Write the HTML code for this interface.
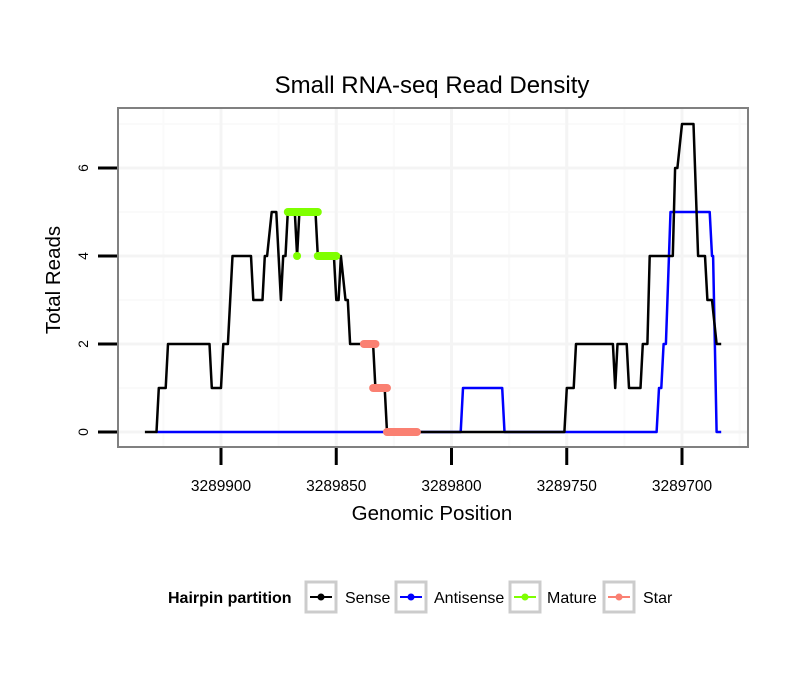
<!DOCTYPE html>
<html><head><meta charset="utf-8"><style>
body{margin:0;background:#fff;}
svg{display:block;font-family:"Liberation Sans",sans-serif;}
</style></head><body>
<svg id="chart" width="810" height="690">
<rect width="810" height="690" fill="#fff"/>
<text x="432" y="93" font-size="24" text-anchor="middle">Small RNA-seq Read Density</text>
<g id="grid"></g>
<g id="series"></g>
<rect x="118" y="108" width="630" height="339" fill="none" stroke="#808080" stroke-width="2"/>
<g id="axes"></g>
<text x="432" y="520" font-size="20.5" text-anchor="middle">Genomic Position</text>
<text transform="translate(60,280) rotate(-90)" font-size="20.5" text-anchor="middle">Total Reads</text>
<g>
<text x="168" y="603" font-size="16" font-weight="bold">Hairpin partition</text>
<g><rect x="306" y="582" width="30" height="30" fill="#fff" stroke="#ccc" stroke-width="3"/><line x1="310" y1="597" x2="332" y2="597" stroke="#000" stroke-width="2"/><circle cx="321" cy="597" r="3.5" fill="#000"/><text x="345" y="603" font-size="16">Sense</text></g>
<g><rect x="396" y="582" width="30" height="30" fill="#fff" stroke="#ccc" stroke-width="3"/><line x1="400" y1="597" x2="422" y2="597" stroke="#00f" stroke-width="2"/><circle cx="411" cy="597" r="3.5" fill="#00f"/><text x="434" y="603" font-size="16">Antisense</text></g>
<g><rect x="510" y="582" width="30" height="30" fill="#fff" stroke="#ccc" stroke-width="3"/><line x1="514" y1="597" x2="536" y2="597" stroke="#7fff00" stroke-width="2"/><circle cx="525" cy="597" r="3.5" fill="#7fff00"/><text x="547" y="603" font-size="16">Mature</text></g>
<g><rect x="604" y="582" width="30" height="30" fill="#fff" stroke="#ccc" stroke-width="3"/><line x1="608" y1="597" x2="630" y2="597" stroke="#fa8072" stroke-width="2"/><circle cx="619" cy="597" r="3.5" fill="#fa8072"/><text x="643" y="603" font-size="16">Star</text></g>
</g>
</svg>
<script>
const xTicks=[3289900,3289850,3289800,3289750,3289700];
const yTicks=[0,2,4,6];
const senseX=[3289933,3289928,3289927,3289924,3289923,3289905,3289904,3289900,3289899,3289897,3289895,3289887,3289886,3289882,3289881,3289880,3289878,3289876,3289874,3289873,3289872,3289871,3289868,3289867,3289866,3289859,3289858,3289851,3289850,3289849,3289848,3289846,3289845,3289844,3289834,3289833,3289829,3289828,3289751,3289750,3289747,3289746,3289730,3289729,3289728,3289724,3289723,3289718,3289717,3289715,3289714,3289704,3289703,3289702,3289700,3289695,3289693,3289690,3289689,3289687,3289685,3289683];
const senseY=[0,0,1,1,2,2,1,1,2,2,4,4,3,3,4,4,5,5,3,4,4,5,5,4,5,5,4,4,3,3,4,3,3,2,2,1,1,0,0,1,1,2,2,1,2,2,1,1,2,2,4,4,6,6,7,7,4,4,3,3,2,2];
const antiX=[3289928,3289796,3289795,3289778,3289777,3289711,3289710,3289709,3289708,3289707,3289705,3289688,3289687,3289686.5,3289685,3289683];
const antiY=[0,0,1,1,0,0,1,1,2,2,5,5,4,4,0,0];
const matureStart=[3289871,3289867,3289858];
const matureEnd=[3289858,3289867,3289850];
const matureVal=[5,4,4];
const starStart=[3289838,3289834,3289828];
const starEnd=[3289833,3289828,3289815];
const starVal=[2,1,0];
const NS="http://www.w3.org/2000/svg";
function sx(v){return 221+(3289900-v)*2.305;}
function sy(v){return 432-v*44;}
function mk(tag,attrs,parent){const e=document.createElementNS(NS,tag);for(const k in attrs)e.setAttribute(k,attrs[k]);parent.appendChild(e);return e;}
const grid=document.getElementById('grid'),axes=document.getElementById('axes'),ser=document.getElementById('series');
mk('rect',{x:118,y:108,width:630,height:339,fill:'#fff'},grid);
const minor=[3289925,3289875,3289825,3289775,3289725,3289675];
minor.forEach(v=>mk('line',{x1:sx(v),x2:sx(v),y1:108,y2:447,stroke:'#fafafa','stroke-width':2},grid));
[1,3,5,7].forEach(v=>mk('line',{x1:118,x2:748,y1:sy(v),y2:sy(v),stroke:'#fafafa','stroke-width':2},grid));
xTicks.forEach(v=>{mk('line',{x1:sx(v),x2:sx(v),y1:108,y2:447,stroke:'#f4f4f4','stroke-width':3},grid);
 const t=mk('line',{x1:sx(v),x2:sx(v),y1:448,y2:465,stroke:'#000','stroke-width':3},axes);
 
 
 const l=mk('text',{x:sx(v),y:491,'font-size':15.5,'text-anchor':'middle'},axes);l.textContent=v;
 
 });
yTicks.forEach(v=>{mk('line',{x1:118,x2:748,y1:sy(v),y2:sy(v),stroke:'#f4f4f4','stroke-width':3},grid);
 const t=mk('line',{x1:98,x2:117,y1:sy(v),y2:sy(v),stroke:'#000','stroke-width':3},axes);
 
 
 const l=mk('text',{transform:`translate(88,${sy(v)}) rotate(-90)`,'font-size':14,'text-anchor':'middle'},axes);l.textContent=v;
 
 });
function path(xs,ys,col,name){const d=xs.map((x,i)=>(i?'L':'M')+sx(x).toFixed(1)+','+sy(ys[i]).toFixed(1)).join('');
 const p=mk('path',{d:d,fill:'none',stroke:col,'stroke-width':2.5,'stroke-linejoin':'round'},ser);
 
 }
path(antiX,antiY,'#0000ff','antisense-line');
path(senseX,senseY,'#000000','sense-line');
function segs(s,e,v,col,name){s.forEach((a,i)=>{const x1=sx(a),x2=sx(e[i]);
 const l=mk('line',{x1:x1,x2:x2,y1:sy(v[i]),y2:sy(v[i]),stroke:col,'stroke-width':8,'stroke-linecap':'round'},ser);
 
 });}
segs(matureStart,matureEnd,matureVal,'#7fff00','mature-segment');
segs(starStart,starEnd,starVal,'#fa8072','star-segment');
</script>
</body></html>
